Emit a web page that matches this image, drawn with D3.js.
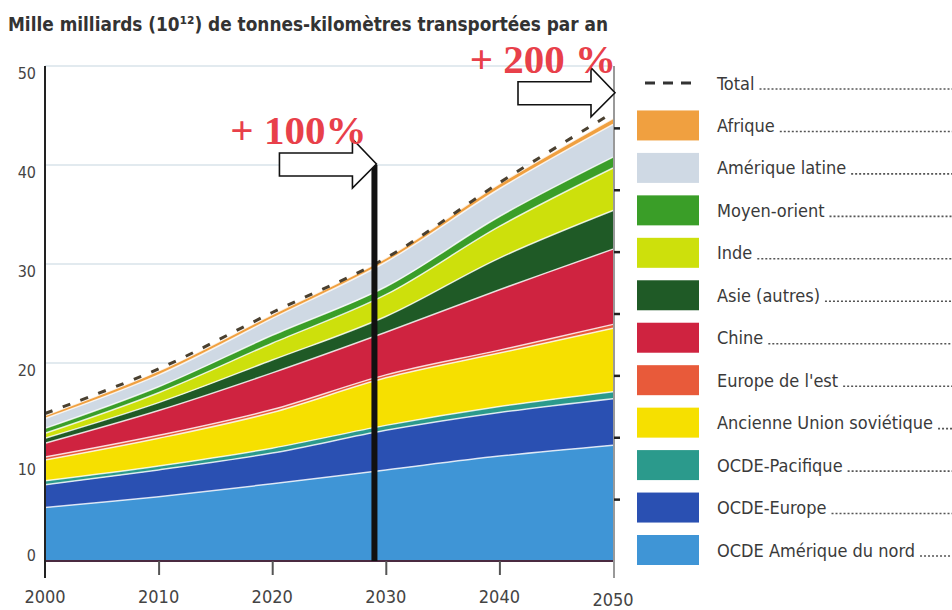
<!DOCTYPE html>
<html>
<head>
<meta charset="utf-8">
<script src="https://cdn.jsdelivr.net/npm/d3@7"></script>
<style>
body { margin:0; background:#fff; }
svg { display:block; }
.narrow { font-family: "Liberation Sans Narrow", "DejaVu Sans Condensed", "Arial Narrow", sans-serif; }
</style>
</head>
<body>
<svg id="chart" width="952" height="610"></svg>
<script>
//----------data (Mille milliards t-km)-------------
var years = [2000, 2010, 2020, 2030, 2040, 2050];
var ocdeNord = [5.4, 6.5, 7.8, 9.2, 10.6, 11.7];
var ocdeEurope = [2.3, 2.7, 3.1, 4.0, 4.4, 4.7];
var ocdePacifique = [0.4, 0.4, 0.5, 0.5, 0.6, 0.7];
var exUrss = [2.1, 2.8, 3.6, 4.8, 5.4, 6.4];
var europeEst = [0.3, 0.3, 0.3, 0.3, 0.3, 0.4];
var chine = [1.4, 2.5, 3.7, 4.3, 6.1, 7.6];
var asieAutres = [0.5, 0.8, 1.3, 1.6, 3.2, 3.9];
var inde = [0.5, 1.0, 1.7, 2.2, 3.2, 4.3];
var moyenOrient = [0.5, 0.6, 0.8, 0.8, 1.0, 1.1];
var ameriqueLatine = [1.0, 1.2, 1.7, 2.5, 2.8, 3.3];
var afrique = [0.3, 0.4, 0.4, 0.4, 0.5, 0.6];
var total = [14.9, 19.4, 25.1, 30.6, 38.2, 45.3];

var keys = ["nord", "europe", "pacifique", "urss", "est", "chine", "asie", "inde", "moyen", "latine", "afrique"];
var labels = ["OCDE Amérique du nord", "OCDE-Europe", "OCDE-Pacifique", "Ancienne Union soviétique",
	"Europe de l'est", "Chine", "Asie (autres)", "Inde", "Moyen-orient", "Amérique latine", "Afrique"];
var colours = ["#3f95d6", "#2a50b2", "#2b9a8c", "#f6e000", "#e85a3a", "#cf2340",
	"#1f5a26", "#cde00c", "#3a9e28", "#cfd9e4", "#f0a040"];

var yTicks = [0, 10, 20, 30, 40, 50];
var xTicks = [2000, 2010, 2020, 2030, 2040, 2050];
var rightTicks = [1, 2, 3, 4, 5, 6, 7];
var annotations = [
	{year: 2029, value: 40, label: "+ 100%"},
	{year: 2050, value: 47.2, label: "+ 200 %"}
];

var table = years.map(function (yr, i) {
	return {year: yr, nord: ocdeNord[i], europe: ocdeEurope[i], pacifique: ocdePacifique[i],
		urss: exUrss[i], est: europeEst[i], chine: chine[i], asie: asieAutres[i], inde: inde[i],
		moyen: moyenOrient[i], latine: ameriqueLatine[i], afrique: afrique[i], total: total[i]};
});

//----------scales-------------
var svg = d3.select("#chart");
var plot = {left: 45, right: 613, top: 66, bottom: 561};
var xScale = d3.scaleLinear().domain([2000, 2050]).range([plot.left, plot.right]);
var yScale = d3.scaleLinear().domain([0, 50]).range([plot.bottom, plot.top]);
var rScale = d3.scaleLinear().domain([0, 8]).range([plot.bottom, plot.top]);
var smooth = d3.curveCatmullRom.alpha(0.5);

//----------title-------------
svg.append("text")
	.attr("class", "narrow")
	.attr("x", 8).attr("y", 31)
	.attr("font-size", 20).attr("font-weight", "bold")
	.attr("fill", "#333")
	.attr("textLength", 600).attr("lengthAdjust", "spacingAndGlyphs")
	.text("Mille milliards (10¹²) de tonnes-kilomètres transportées par an");

//----------grid-------------
svg.append("g").selectAll("line")
	.data(yTicks.slice(1))
	.enter().append("line")
	.attr("x1", plot.left).attr("x2", plot.right)
	.attr("y1", function (d) { return yScale(d); })
	.attr("y2", function (d) { return yScale(d); })
	.attr("stroke", "#c6d6df").attr("stroke-width", 1.2);

//----------areas-------------
var stack = d3.stack().keys(keys);
var layers = stack(table);
var area = d3.area()
	.x(function (d) { return xScale(d.data.year); })
	.y0(function (d) { return yScale(d[0]); })
	.y1(function (d) { return yScale(d[1]); })
	.curve(smooth);
var topLine = d3.line()
	.x(function (d) { return xScale(d.data.year); })
	.y(function (d) { return yScale(d[1]); })
	.curve(smooth);

svg.append("g").selectAll("path")
	.data(layers)
	.enter().append("path")
	.attr("d", area)
	.attr("fill", function (d, i) { return colours[i]; });

svg.append("g").selectAll("path")
	.data(layers)
	.enter().append("path")
	.attr("d", topLine)
	.attr("fill", "none")
	.attr("stroke", "#ffffff")
	.attr("stroke-opacity", 0.8)
	.attr("stroke-width", 1.5);

var totalLine = d3.line()
	.x(function (d) { return xScale(d.year); })
	.y(function (d) { return yScale(d.total); })
	.curve(smooth);
svg.append("path")
	.datum(table)
	.attr("d", totalLine)
	.attr("fill", "none")
	.attr("stroke", "#4a4030")
	.attr("stroke-width", 3)
	.attr("stroke-dasharray", "8,11");

//----------axes-------------
svg.append("line")
	.attr("x1", plot.left).attr("x2", plot.right)
	.attr("y1", plot.bottom).attr("y2", plot.bottom)
	.attr("stroke", "#4a2a40").attr("stroke-width", 2);
svg.append("line")
	.attr("x1", plot.left).attr("x2", plot.left)
	.attr("y1", plot.top).attr("y2", plot.bottom + 17)
	.attr("stroke", "#222").attr("stroke-width", 2);
svg.append("line")
	.attr("x1", plot.right + 1).attr("x2", plot.right + 1)
	.attr("y1", plot.top).attr("y2", plot.bottom + 17)
	.attr("stroke", "#777").attr("stroke-width", 1.5);

var xAxis = d3.axisBottom(xScale).tickValues(xTicks.slice(1, 5)).tickSize(14).tickFormat("");
svg.append("g")
	.attr("transform", "translate(0," + plot.bottom + ")")
	.call(xAxis)
	.call(function (g) { g.select(".domain").remove(); })
	.selectAll("line").attr("stroke", "#555").attr("stroke-width", 2);

var rAxis = d3.axisRight(rScale).tickValues(rightTicks).tickSize(6).tickFormat("");
svg.append("g")
	.attr("transform", "translate(" + (plot.right + 1) + ",0)")
	.call(rAxis)
	.call(function (g) { g.select(".domain").remove(); })
	.selectAll("line").attr("stroke", "#222").attr("stroke-width", 2.5);

svg.append("g").selectAll("text")
	.data(yTicks)
	.enter().append("text")
	.attr("class", "narrow")
	.attr("x", 36)
	.attr("y", function (d) { return d === 0 ? yScale(d) - 6 : yScale(d) + 7; })
	.attr("dominant-baseline", "central")
	.attr("text-anchor", "end")
	.attr("font-size", 16).attr("fill", "#444")
	.text(function (d) { return d; });

svg.append("g").selectAll("text")
	.data(xTicks)
	.enter().append("text")
	.attr("class", "narrow")
	.attr("x", function (d) { return xScale(d); })
	.attr("y", function (d) { return d === 2050 ? 599 : 596; })
	.attr("dominant-baseline", "central")
	.attr("text-anchor", "middle")
	.attr("font-size", 18).attr("fill", "#444")
	.text(function (d) { return d; });

//----------annotations-------------
var vLine = annotations[0];
svg.append("line")
	.attr("x1", xScale(vLine.year)).attr("x2", xScale(vLine.year))
	.attr("y1", yScale(vLine.value)).attr("y2", yScale(0))
	.attr("stroke", "#111").attr("stroke-width", 6);

var arrowPath = function (tx, ty) {
	return "M" + (tx - 97) + "," + (ty - 11) + " L" + (tx - 24) + "," + (ty - 11) +
		" L" + (tx - 24) + "," + (ty - 25) + " L" + tx + "," + ty +
		" L" + (tx - 24) + "," + (ty + 24) + " L" + (tx - 24) + "," + (ty + 12) +
		" L" + (tx - 97) + "," + (ty + 12) + " Z";
};
svg.append("g").selectAll("path")
	.data(annotations)
	.enter().append("path")
	.attr("d", function (d) { return arrowPath(xScale(d.year) + 2, yScale(d.value) - 1); })
	.attr("fill", "#fff").attr("stroke", "#111").attr("stroke-width", 1.6);

svg.append("g").selectAll("text")
	.data(annotations)
	.enter().append("text")
	.attr("x", function (d, i) { return xScale(d.year) + (i === 0 ? -8 : 3); })
	.attr("y", function (d) { return yScale(d.value) - 21; })
	.attr("text-anchor", "end")
	.attr("font-family", "Liberation Serif, Times New Roman, serif")
	.attr("font-weight", "bold").attr("font-size", 41)
	.attr("fill", "#e8404a")
	.text(function (d) { return d.label; });

//----------legend-------------
var legendY = d3.scaleLinear().domain([0, 11]).range([83, 550]);
var legend = svg.append("g");
legend.append("line")
	.attr("x1", 645).attr("x2", 699)
	.attr("y1", legendY(0)).attr("y2", legendY(0))
	.attr("stroke", "#333").attr("stroke-width", 3)
	.attr("stroke-dasharray", "10,8");

var legendItems = keys.map(function (k, i) { return {label: labels[i], colour: colours[i]}; }).reverse();
var rows = legend.selectAll("g.row")
	.data([{label: "Total"}].concat(legendItems))
	.enter().append("g").attr("class", "row")
	.attr("transform", function (d, i) { return "translate(0," + legendY(i) + ")"; });

rows.filter(function (d) { return d.colour; })
	.append("rect")
	.attr("x", 637).attr("y", -15)
	.attr("width", 62).attr("height", 30)
	.attr("fill", function (d) { return d.colour; });

rows.append("text")
	.attr("class", "narrow")
	.attr("x", 717).attr("y", 0)
	.attr("dominant-baseline", "central")
	.attr("font-size", 18).attr("fill", "#3a3a3a")
	.text(function (d) { return d.label; });

rows.each(function () {
	var row = d3.select(this);
	var w = row.select("text").node().getComputedTextLength();
	row.append("line")
		.attr("x1", 717 + w + 5).attr("x2", 952)
		.attr("y1", 6).attr("y2", 6)
		.attr("stroke", "#555").attr("stroke-width", 1.6)
		.attr("stroke-dasharray", "2,2");
});
</script>
</body>
</html>
